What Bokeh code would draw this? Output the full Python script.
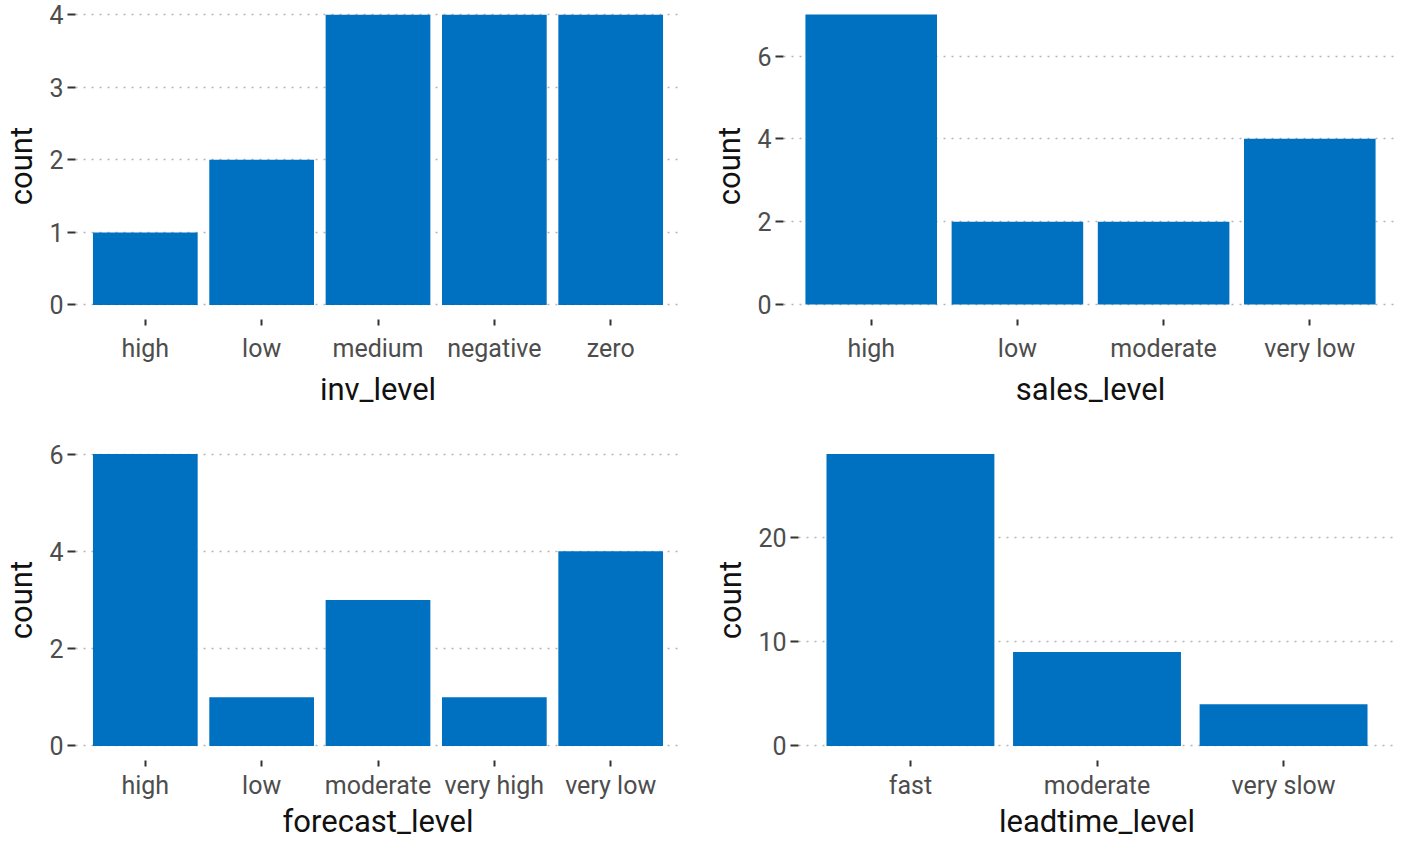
from bokeh.plotting import figure
from bokeh.layouts import column, row
from bokeh.models import Range1d, FixedTicker
from bokeh.embed import file_html
from bokeh.resources import INLINE

# ---- data ----
inv_levels = ["high", "low", "medium", "negative", "zero"]
inv_counts = [1, 2, 4, 4, 4]

sales_levels = ["high", "low", "moderate", "very low"]
sales_counts = [7, 2, 2, 4]

forecast_levels = ["high", "low", "moderate", "very high", "very low"]
forecast_counts = [6, 1, 3, 1, 4]

leadtime_levels = ["fast", "moderate", "very slow"]
leadtime_counts = [28, 9, 4]

inv_yticks = [0, 1, 2, 3, 4]
sales_yticks = [0, 2, 4, 6]
forecast_yticks = [0, 2, 4, 6]
leadtime_yticks = [0, 10, 20]

BAR = "#0070C0"
FONT = "Roboto"


def panel(cats, counts, xlabel, yticks, yr, width, height, bl, br, bt, bb,
          lab_so=8, title_so=5):
    n = len(cats)
    xs = list(range(1, n + 1))
    p = figure(width=width, height=height,
               x_range=Range1d(0.4, n + 0.6), y_range=Range1d(*yr),
               output_backend="svg", toolbar_location=None,
               min_border_left=bl, min_border_right=br,
               min_border_top=bt, min_border_bottom=bb)
    p.vbar(x=xs, top=counts, bottom=0, width=0.9,
           fill_color=BAR, line_color=None)
    p.outline_line_color = None
    p.background_fill_color = "white"
    p.border_fill_color = "white"
    p.xgrid.grid_line_color = None
    p.ygrid.grid_line_color = "#b5b5b5"
    p.ygrid.grid_line_dash = "2 6"
    p.ygrid.grid_line_width = 1.5

    p.xaxis.ticker = FixedTicker(ticks=xs)
    p.xaxis.major_label_overrides = {x: c for x, c in zip(xs, cats)}
    p.yaxis.ticker = FixedTicker(ticks=yticks)
    for ax in (p.xaxis, p.yaxis):
        ax.axis_line_color = None
        ax.minor_tick_line_color = None
        ax.major_tick_in = 0
        ax.major_tick_line_color = "#333333"
        ax.major_tick_line_width = 2
        ax.major_label_text_font = FONT
        ax.major_label_text_font_size = "25px"
        ax.major_label_text_color = "#4d4d4d"
        ax.axis_label_text_font = FONT
        ax.axis_label_text_font_size = "31px"
        ax.axis_label_text_font_style = "normal"
        ax.axis_label_text_color = "#111111"
    p.xaxis.major_tick_out = 6
    p.yaxis.major_tick_out = 8
    p.xaxis.major_label_standoff = lab_so
    p.yaxis.major_label_standoff = 4
    p.xaxis.axis_label_standoff = title_so
    p.yaxis.axis_label_standoff = 6
    p.xaxis.axis_label = xlabel
    p.yaxis.axis_label = "count"
    return p


a = panel(inv_levels, inv_counts, "inv_level", inv_yticks, (-0.2, 4.03),
          700, 426, 68, 20, 12, 107)
b = panel(sales_levels, sales_counts, "sales_level", sales_yticks, (-0.36, 7.05),
          697, 426, 83, 0, 12, 107)
c = panel(forecast_levels, forecast_counts, "forecast_level", forecast_yticks, (-0.3, 6.3),
          700, 416, 68, 20, 13, 80, lab_so=4, title_so=0)
d = panel(leadtime_levels, leadtime_counts, "leadtime_level", leadtime_yticks, (-1.4, 29.4),
          697, 416, 98, 2, 13, 80, lab_so=4, title_so=0)

layout = column(row(a, b), row(c, d))
open("out.html", "w").write(file_html(layout, INLINE))
